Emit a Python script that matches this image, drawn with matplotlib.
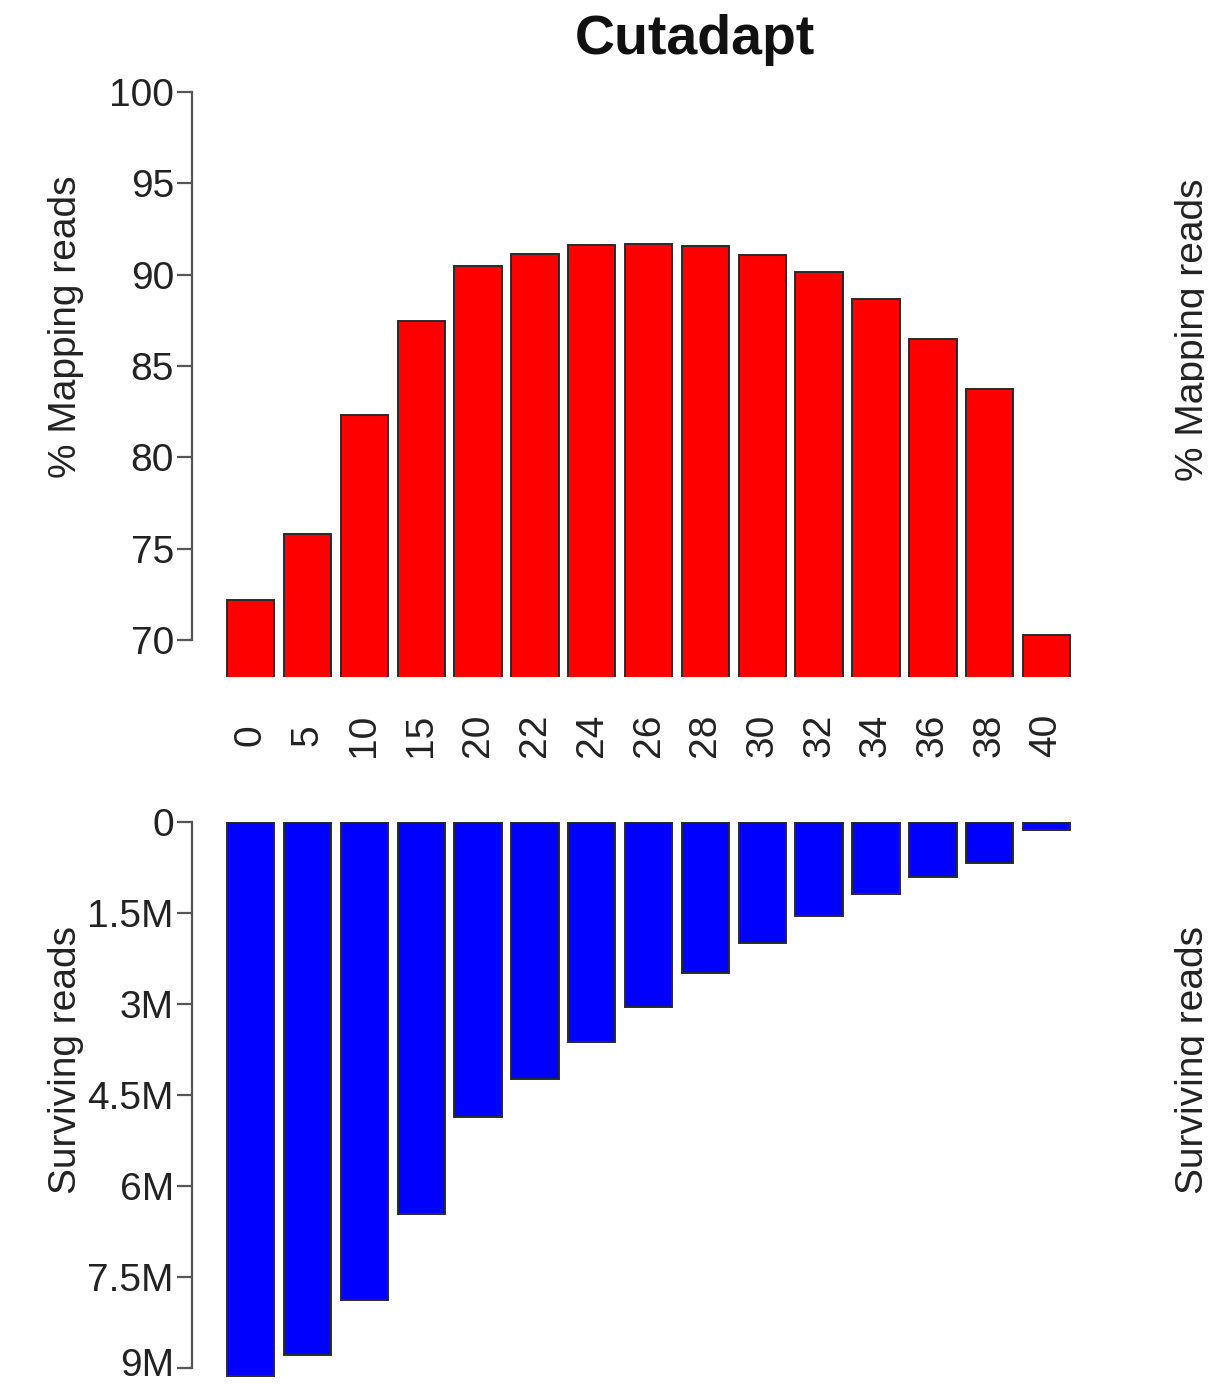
import matplotlib
matplotlib.use("Agg")
import matplotlib.pyplot as plt
from matplotlib.transforms import Bbox, TransformedBbox, ScaledTranslation
import numpy as np

plt.rcParams['font.family'] = ['Liberation Sans', 'DejaVu Sans']

# Data
categories = ["0", "5", "10", "15", "20", "22", "24", "26", "28", "30", "32", "34", "36", "38", "40"]
mapping_pct = [72.2, 75.8, 82.3, 87.45, 90.47, 91.13, 91.6, 91.7, 91.57, 91.07, 90.14, 88.66, 86.47, 83.74, 70.27]
surviving_M = [9.13, 8.79, 7.88, 6.46, 4.86, 4.24, 3.63, 3.05, 2.49, 1.99, 1.55, 1.19, 0.91, 0.68, 0.13]
top_yticks = [70, 75, 80, 85, 90, 95, 100]
bottom_yticks = [0, 1.5, 3, 4.5, 6, 7.5, 9]
bottom_yticklabels = ["0", "1.5M", "3M", "4.5M", "6M", "7.5M", "9M"]

W, H = 1229, 1384
fig = plt.figure(figsize=(W / 100, H / 100), dpi=100)

def frac_box(left, top, right, bottom):
    return [left / W, 1 - bottom / H, (right - left) / W, (bottom - top) / H]

x = np.arange(len(categories))
bw = 1 / 1.2
spine_col = "#555555"
edge_col = "#2a2a2a"
xlim = (-1.032, 14.94)

# Top panel
ax1 = fig.add_axes(frac_box(192, 80, 1100, 677))
ax1.bar(x, np.array(mapping_pct) - 60, bottom=60, width=bw, color="#ff0000",
        edgecolor=edge_col, linewidth=1.4)
ax1.set_xlim(*xlim)
ax1.set_ylim(67.97, 100.66)
for s in ["top", "right", "bottom"]:
    ax1.spines[s].set_visible(False)
ax1.spines["left"].set_bounds(70, 100)
ax1.spines["left"].set_color(spine_col)
ax1.spines["left"].set_linewidth(1.6)
ax1.set_yticks(top_yticks)
ax1.set_yticklabels([str(v) for v in top_yticks])
ax1.tick_params(axis="y", length=11, width=1.6, color=spine_col, pad=2,
                labelsize=28, labelcolor="#222222")
ax1.set_xticks(x)
ax1.set_xticklabels(categories, rotation=90)
ax1.tick_params(axis="x", length=0, pad=42, labelsize=28, labelcolor="#222222")
for lbl in ax1.get_xticklabels():
    lbl.set_va("center")

# Bottom panel
ax2 = fig.add_axes(frac_box(192, 822, 1100, 1380))
ax2.bar(x, surviving_M, width=bw, color="#0000ff", edgecolor=edge_col, linewidth=1.4)
ax2.set_xlim(*xlim)
ax2.set_ylim(9.197, 0)
for s in ["top", "right", "bottom"]:
    ax2.spines[s].set_visible(False)
ax2.spines["left"].set_bounds(0, 9)
ax2.spines["left"].set_color(spine_col)
ax2.spines["left"].set_linewidth(1.6)
ax2.set_yticks(bottom_yticks)
ax2.set_yticklabels(bottom_yticklabels)
ax2.tick_params(axis="y", length=11, width=1.6, color=spine_col, pad=2,
                labelsize=28, labelcolor="#222222")
ax2.set_xticks([])
# nudge the last label ("9M") up a touch so it stays inside the canvas
last = ax2.get_yticklabels()[-1]
last.set_transform(last.get_transform() + ScaledTranslation(0, 6 / 100, fig.dpi_scale_trans))

# Title
fig.text(695 / W, 1 - 40 / H, "Cutadapt", fontsize=40, fontweight="bold",
         ha="center", va="center", color="#111111")

# Y labels
fig.text(66 / W, 1 - 327 / H, "% Mapping reads", rotation=90, fontsize=28,
         ha="center", va="center", color="#222222")
fig.text(66 / W, 1 - 1060 / H, "Surviving reads", rotation=90, fontsize=28,
         ha="center", va="center", color="#222222")

# Cut-off labels from the neighbouring panel at the right edge
clip = TransformedBbox(Bbox([[0, 0], [1204 / W, 1]]), fig.transFigure)
for ypix, txt in [(330, "% Mapping reads"), (1060, "Surviving reads")]:
    t = fig.text(1193 / W, 1 - ypix / H, txt, rotation=90, fontsize=28,
                 ha="center", va="center", color="#222222")
    t.set_clip_on(True)
    t.set_clip_box(clip)

fig.savefig("out.png", dpi=100)
